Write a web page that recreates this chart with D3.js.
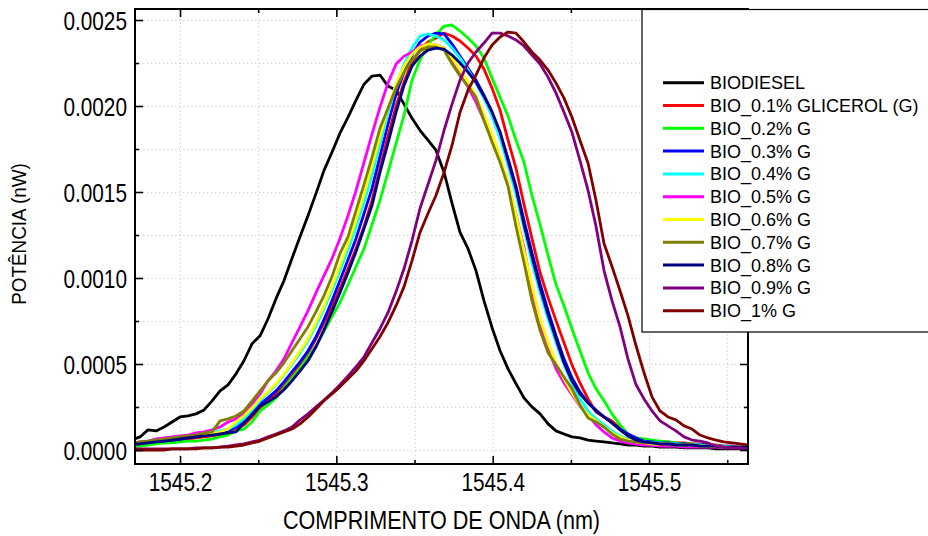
<!DOCTYPE html>
<html><head><meta charset="utf-8">
<script src="https://cdn.jsdelivr.net/npm/d3@7"></script>
<style>body{margin:0;background:#fff}svg{display:block}</style>
</head><body>
<svg id="chart" width="928" height="536"></svg>
<script>
const wavelength = [1545.1693,1545.1744,1545.1795,1545.1847,1545.1898,1545.1949,1545.2000,1545.2051,1545.2102,1545.2154,
1545.2205,1545.2256,1545.2307,1545.2358,1545.2409,1545.2461,1545.2512,1545.2563,1545.2614,1545.2665,
1545.2716,1545.2768,1545.2819,1545.2870,1545.2921,1545.2972,1545.3023,1545.3075,1545.3126,1545.3177,
1545.3228,1545.3279,1545.3330,1545.3382,1545.3433,1545.3484,1545.3535,1545.3586,1545.3637,1545.3689,
1545.3740,1545.3791,1545.3842,1545.3893,1545.3944,1545.3996,1545.4047,1545.4098,1545.4149,1545.4200,
1545.4251,1545.4303,1545.4354,1545.4405,1545.4456,1545.4507,1545.4558,1545.4610,1545.4661,1545.4712,
1545.4763,1545.4814,1545.4865,1545.4917,1545.4968,1545.5019,1545.5070,1545.5121,1545.5172,1545.5224,
1545.5275,1545.5326,1545.5377,1545.5428,1545.5479,1545.5531,1545.5582,1545.5633,1545.5684];

const biodiesel = [0.000058,0.000076,0.000117,0.000111,0.000134,0.000163,0.000192,0.000198,0.000210,0.000233,
0.000286,0.000344,0.000379,0.000443,0.000519,0.000618,0.000664,0.000763,0.000880,0.000985,
0.001113,0.001241,0.001364,0.001492,0.001626,0.001731,0.001842,0.001935,0.002034,0.002127,
0.002174,0.002180,0.002116,0.002092,0.002011,0.001929,0.001859,0.001801,0.001743,0.001614,
0.001434,0.001265,0.001171,0.001043,0.000868,0.000711,0.000577,0.000472,0.000385,0.000303,
0.000251,0.000210,0.000152,0.000111,0.000093,0.000076,0.000070,0.000058,0.000052,0.000047,
0.000041,0.000035,0.000029,0.000029,0.000023,0.000023,0.000017,0.000017,0.000017,0.000012,
0.000012,0.000012,0.000012,0.000006,0.000006,0.000006,0.000006,0.000006,0.000006];

const bio01 = [0.000029,0.000035,0.000041,0.000041,0.000047,0.000052,0.000058,0.000064,0.000070,0.000076,
0.000082,0.000087,0.000099,0.000117,0.000146,0.000192,0.000245,0.000286,0.000326,0.000373,
0.000431,0.000495,0.000565,0.000647,0.000740,0.000833,0.000938,0.001055,0.001171,0.001300,
0.001451,0.001638,0.001824,0.001999,0.002139,0.002255,0.002325,0.002372,0.002395,0.002424,
0.002407,0.002378,0.002337,0.002290,0.002215,0.002104,0.001976,0.001801,0.001638,0.001428,
0.001230,0.001032,0.000886,0.000752,0.000624,0.000495,0.000390,0.000297,0.000221,0.000192,
0.000169,0.000128,0.000093,0.000070,0.000058,0.000052,0.000047,0.000047,0.000041,0.000041,
0.000035,0.000035,0.000029,0.000029,0.000023,0.000023,0.000017,0.000017,0.000012];

const bio02 = [0.000017,0.000023,0.000029,0.000035,0.000041,0.000041,0.000047,0.000052,0.000052,0.000058,
0.000064,0.000076,0.000087,0.000111,0.000122,0.000163,0.000227,0.000262,0.000303,0.000361,
0.000420,0.000478,0.000542,0.000606,0.000688,0.000775,0.000857,0.000962,0.001067,0.001171,
0.001311,0.001451,0.001614,0.001783,0.001947,0.002151,0.002267,0.002355,0.002413,0.002465,
0.002471,0.002436,0.002395,0.002349,0.002279,0.002162,0.002051,0.001941,0.001801,0.001673,
0.001480,0.001311,0.001131,0.000962,0.000839,0.000705,0.000577,0.000449,0.000356,0.000286,
0.000210,0.000146,0.000093,0.000070,0.000064,0.000058,0.000052,0.000047,0.000041,0.000035,
0.000035,0.000029,0.000029,0.000023,0.000017,0.000017,0.000012,0.000012,0.000012];

const bio03 = [0.000035,0.000041,0.000047,0.000052,0.000052,0.000058,0.000064,0.000070,0.000076,0.000087,
0.000093,0.000099,0.000111,0.000134,0.000163,0.000216,0.000268,0.000303,0.000344,0.000396,
0.000455,0.000513,0.000577,0.000659,0.000758,0.000868,0.000985,0.001107,0.001230,0.001375,
0.001521,0.001708,0.001894,0.002069,0.002197,0.002296,0.002372,0.002407,0.002424,0.002419,
0.002360,0.002290,0.002220,0.002151,0.002063,0.001964,0.001847,0.001696,0.001533,0.001335,
0.001148,0.000967,0.000810,0.000664,0.000530,0.000420,0.000338,0.000274,0.000233,0.000192,
0.000157,0.000122,0.000093,0.000070,0.000052,0.000047,0.000041,0.000041,0.000035,0.000035,
0.000029,0.000029,0.000029,0.000023,0.000023,0.000023,0.000017,0.000017,0.000017];

const bio04 = [0.000041,0.000041,0.000047,0.000052,0.000058,0.000064,0.000070,0.000076,0.000082,0.000087,
0.000099,0.000111,0.000122,0.000146,0.000181,0.000233,0.000286,0.000332,0.000379,0.000437,
0.000501,0.000565,0.000635,0.000723,0.000822,0.000927,0.001043,0.001166,0.001294,0.001440,
0.001597,0.001778,0.001958,0.002116,0.002244,0.002337,0.002407,0.002419,0.002407,0.002384,
0.002337,0.002279,0.002209,0.002133,0.002046,0.001941,0.001813,0.001655,0.001486,0.001288,
0.001090,0.000915,0.000763,0.000624,0.000495,0.000385,0.000297,0.000227,0.000181,0.000146,
0.000111,0.000082,0.000064,0.000052,0.000047,0.000041,0.000041,0.000035,0.000035,0.000029,
0.000029,0.000029,0.000023,0.000023,0.000023,0.000017,0.000017,0.000017,0.000017];

const bio05 = [0.000041,0.000047,0.000052,0.000064,0.000070,0.000076,0.000082,0.000087,0.000099,0.000105,
0.000117,0.000134,0.000163,0.000181,0.000216,0.000268,0.000326,0.000402,0.000460,0.000530,
0.000624,0.000717,0.000810,0.000915,0.001014,0.001113,0.001230,0.001364,0.001509,0.001673,
0.001836,0.001993,0.002133,0.002244,0.002290,0.002314,0.002349,0.002360,0.002355,0.002337,
0.002255,0.002186,0.002110,0.002022,0.001917,0.001807,0.001684,0.001544,0.001370,0.001177,
0.000927,0.000740,0.000589,0.000472,0.000390,0.000321,0.000256,0.000204,0.000146,0.000105,
0.000070,0.000052,0.000041,0.000035,0.000029,0.000029,0.000023,0.000023,0.000023,0.000017,
0.000017,0.000017,0.000017,0.000017,0.000012,0.000012,0.000012,0.000012,0.000012];

const bio06 = [0.000035,0.000041,0.000047,0.000052,0.000058,0.000064,0.000070,0.000076,0.000082,0.000087,
0.000093,0.000105,0.000122,0.000163,0.000198,0.000245,0.000297,0.000338,0.000385,0.000443,
0.000507,0.000577,0.000647,0.000740,0.000839,0.000950,0.001072,0.001201,0.001335,0.001486,
0.001649,0.001824,0.001987,0.002127,0.002232,0.002302,0.002343,0.002360,0.002355,0.002337,
0.002279,0.002209,0.002139,0.002057,0.001952,0.001836,0.001708,0.001556,0.001370,0.001160,
0.000956,0.000763,0.000624,0.000507,0.000414,0.000332,0.000262,0.000204,0.000169,0.000134,
0.000099,0.000076,0.000058,0.000047,0.000041,0.000035,0.000035,0.000035,0.000029,0.000029,
0.000029,0.000023,0.000023,0.000023,0.000017,0.000017,0.000017,0.000017,0.000017];

const bio07 = [0.000041,0.000047,0.000052,0.000058,0.000064,0.000070,0.000076,0.000082,0.000087,0.000099,
0.000105,0.000169,0.000181,0.000198,0.000227,0.000286,0.000344,0.000402,0.000449,0.000507,
0.000577,0.000647,0.000717,0.000804,0.000898,0.001008,0.001142,0.001241,0.001393,0.001544,
0.001702,0.001871,0.001987,0.002104,0.002197,0.002267,0.002320,0.002343,0.002343,0.002325,
0.002244,0.002174,0.002116,0.002051,0.001917,0.001789,0.001673,0.001533,0.001300,0.001090,
0.000868,0.000694,0.000565,0.000495,0.000425,0.000356,0.000262,0.000186,0.000163,0.000134,
0.000093,0.000064,0.000052,0.000047,0.000041,0.000041,0.000035,0.000035,0.000029,0.000029,
0.000029,0.000023,0.000023,0.000023,0.000017,0.000017,0.000017,0.000017,0.000017];

const bio08 = [0.000035,0.000035,0.000041,0.000047,0.000052,0.000058,0.000064,0.000070,0.000076,0.000082,
0.000087,0.000093,0.000099,0.000105,0.000157,0.000204,0.000256,0.000280,0.000309,0.000350,
0.000402,0.000460,0.000519,0.000600,0.000699,0.000804,0.000915,0.001032,0.001154,0.001288,
0.001422,0.001614,0.001783,0.001964,0.002121,0.002232,0.002290,0.002325,0.002337,0.002331,
0.002296,0.002250,0.002197,0.002139,0.002057,0.001964,0.001847,0.001684,0.001521,0.001311,
0.001125,0.000944,0.000787,0.000647,0.000507,0.000402,0.000326,0.000274,0.000227,0.000192,
0.000157,0.000117,0.000082,0.000058,0.000047,0.000041,0.000035,0.000035,0.000029,0.000029,
0.000029,0.000023,0.000023,0.000023,0.000017,0.000017,0.000017,0.000017,0.000017];

const bio09 = [0.000006,0.000006,0.000006,0.000006,0.000006,0.000006,0.000006,0.000006,0.000012,0.000012,
0.000012,0.000017,0.000023,0.000029,0.000035,0.000047,0.000058,0.000076,0.000093,0.000111,
0.000134,0.000175,0.000210,0.000251,0.000291,0.000332,0.000379,0.000431,0.000484,0.000542,
0.000624,0.000705,0.000798,0.000921,0.001055,0.001218,0.001405,0.001544,0.001684,0.001859,
0.002011,0.002151,0.002250,0.002314,0.002366,0.002424,0.002424,0.002407,0.002384,0.002349,
0.002296,0.002244,0.002168,0.002075,0.001964,0.001847,0.001684,0.001509,0.001300,0.001043,
0.000868,0.000717,0.000530,0.000379,0.000297,0.000227,0.000169,0.000140,0.000111,0.000076,
0.000058,0.000052,0.000041,0.000023,0.000017,0.000012,0.000012,0.000006,0.000006];

const bio10 = [0.000000,0.000000,0.000000,0.000000,0.000000,0.000006,0.000006,0.000006,0.000006,0.000012,
0.000012,0.000017,0.000017,0.000023,0.000029,0.000041,0.000052,0.000070,0.000087,0.000105,
0.000122,0.000152,0.000192,0.000239,0.000286,0.000326,0.000367,0.000414,0.000460,0.000519,
0.000589,0.000659,0.000740,0.000839,0.000950,0.001101,0.001265,0.001375,0.001480,0.001614,
0.001772,0.001964,0.002092,0.002180,0.002279,0.002355,0.002401,0.002430,0.002424,0.002372,
0.002314,0.002267,0.002209,0.002133,0.002046,0.001935,0.001801,0.001667,0.001451,0.001201,
0.001067,0.000927,0.000781,0.000606,0.000449,0.000309,0.000227,0.000192,0.000175,0.000140,
0.000122,0.000087,0.000070,0.000058,0.000047,0.000041,0.000035,0.000029,0.000029];

const seriesNames = ["BIODIESEL", "BIO_0.1% GLICEROL (G)", "BIO_0.2% G", "BIO_0.3% G", "BIO_0.4% G",
  "BIO_0.5% G", "BIO_0.6% G", "BIO_0.7% G", "BIO_0.8% G", "BIO_0.9% G", "BIO_1% G"];
const seriesValues = [biodiesel, bio01, bio02, bio03, bio04, bio05, bio06, bio07, bio08, bio09, bio10];
const seriesColors = ["#000000", "#ff0000", "#00ff00", "#0000ff", "#00ffff", "#ff00ff",
  "#ffff00", "#808000", "#000080", "#800080", "#800000"];

const xTickValues = [1545.2, 1545.3, 1545.4, 1545.5];
const xTickLabels = ["1545.2", "1545.3", "1545.4", "1545.5"];
const xMinorValues = [1545.25, 1545.35, 1545.45, 1545.55];
const yTickValues = [0, 0.0005, 0.0010, 0.0015, 0.0020, 0.0025];
const yTickLabels = ["0.0000", "0.0005", "0.0010", "0.0015", "0.0020", "0.0025"];
const yMinorValues = [0.00025, 0.00075, 0.00125, 0.00175, 0.00225];
const xDomain = [1545.1712, 1545.5633];
const yDomain = [-0.0000814, 0.002564];
const xTitle = "COMPRIMENTO DE ONDA (nm)";
const yTitle = "POTÊNCIA (nW)";

const FONT = "Arial, 'Liberation Sans', Helvetica, sans-serif";
const L = 135, R = 748, T = 9, B = 464;
const svg = d3.select("#chart");
const x = d3.scaleLinear().domain(xDomain).range([L, R]);
const y = d3.scaleLinear().domain(yDomain).range([B, T]);

// grid
const gridStyle = g => {
  g.select(".domain").remove();
  g.selectAll("line").attr("stroke", "#cfcfcf").attr("stroke-width", 1).attr("stroke-dasharray", "1.3,2.7");
};
svg.append("g").attr("transform", `translate(0,${B})`)
  .call(d3.axisBottom(x).tickValues(xTickValues.concat(xMinorValues)).tickSize(-(B - T)).tickFormat(""))
  .call(gridStyle);
svg.append("g").attr("transform", `translate(${L},0)`)
  .call(d3.axisLeft(y).tickValues(yTickValues.concat(yMinorValues)).tickSize(-(R - L)).tickFormat(""))
  .call(gridStyle);

// curves
svg.append("clipPath").attr("id", "plotclip").append("rect")
  .attr("x", L).attr("y", T).attr("width", R - L).attr("height", B - T);
const line = d3.line().x((d, i) => x(wavelength[i])).y(d => y(d));
svg.append("g").attr("clip-path", "url(#plotclip)")
  .selectAll("path").data(seriesValues).join("path")
  .attr("d", line)
  .attr("fill", "none")
  .attr("stroke", (d, i) => seriesColors[i])
  .attr("stroke-width", 2.8)
  .attr("stroke-linejoin", "round");

// axes
const axisStyle = g => {
  g.select(".domain").remove();
  g.selectAll("line").attr("stroke", "#000").attr("stroke-width", 1.6);
};
svg.append("g").attr("transform", `translate(0,${B})`)
  .call(d3.axisBottom(x).tickValues(xMinorValues).tickSize(-4).tickFormat("")).call(axisStyle);
svg.append("g").attr("transform", `translate(0,${T})`)
  .call(d3.axisTop(x).tickValues(xMinorValues).tickSize(-4).tickFormat("")).call(axisStyle);
svg.append("g").attr("transform", `translate(${L},0)`)
  .call(d3.axisLeft(y).tickValues(yMinorValues).tickSize(-4).tickFormat("")).call(axisStyle);
svg.append("g").attr("transform", `translate(${R},0)`)
  .call(d3.axisRight(y).tickValues(yMinorValues).tickSize(-4).tickFormat("")).call(axisStyle);
svg.append("g").attr("transform", `translate(0,${T})`)
  .call(d3.axisTop(x).tickValues(xTickValues).tickSize(-8).tickFormat("")).call(axisStyle);
svg.append("g").attr("transform", `translate(${R},0)`)
  .call(d3.axisRight(y).tickValues(yTickValues).tickSize(-8).tickFormat("")).call(axisStyle);

const gx = svg.append("g").attr("transform", `translate(0,${B})`)
  .call(d3.axisBottom(x).tickValues(xTickValues).tickSize(-8).tickFormat((d, i) => xTickLabels[i]))
  .call(axisStyle);
gx.selectAll("text").attr("y", 27).attr("dy", null)
  .attr("transform", "scale(0.8,1)")
  .attr("font-family", FONT).attr("font-size", 26).attr("fill", "#000");

const gy = svg.append("g").attr("transform", `translate(${L},0)`)
  .call(d3.axisLeft(y).tickValues(yTickValues).tickSize(-8).tickFormat((d, i) => yTickLabels[i]))
  .call(axisStyle);
gy.selectAll("text").attr("x", -10).attr("dy", "0.36em")
  .attr("transform", "scale(0.8,1)")
  .attr("font-family", FONT).attr("font-size", 26).attr("fill", "#000");

// frame
svg.append("rect").attr("x", L).attr("y", T).attr("width", R - L).attr("height", B - T)
  .attr("fill", "none").attr("stroke", "#000").attr("stroke-width", 2);

// titles
svg.append("text").attr("transform", `translate(${(L + R) / 2},529) scale(0.83,1)`)
  .attr("text-anchor", "middle").attr("font-family", FONT).attr("font-size", 26).text(xTitle);
svg.append("text").attr("transform", `translate(26,234) rotate(-90) scale(0.9,1)`)
  .attr("text-anchor", "middle").attr("font-family", FONT).attr("font-size", 21).text(yTitle);

// legend
const lg = svg.append("g");
lg.append("rect").attr("x", 642).attr("y", 9.5).attr("width", 320).attr("height", 322.5)
  .attr("fill", "#fff").attr("stroke", "#000").attr("stroke-width", 1.2);
const rows = lg.selectAll("g.row").data(seriesNames).join("g").attr("class", "row")
  .attr("transform", (d, i) => `translate(0,${82.7 + 22.8 * i})`);
rows.append("line").attr("x1", 663).attr("x2", 704).attr("y1", 0).attr("y2", 0)
  .attr("stroke", (d, i) => seriesColors[i]).attr("stroke-width", 3);
rows.append("text").attr("x", 710).attr("y", 6.5)
  .attr("font-family", FONT).attr("font-size", 18).attr("fill", "#000").text(d => d);
</script>
</body></html>
